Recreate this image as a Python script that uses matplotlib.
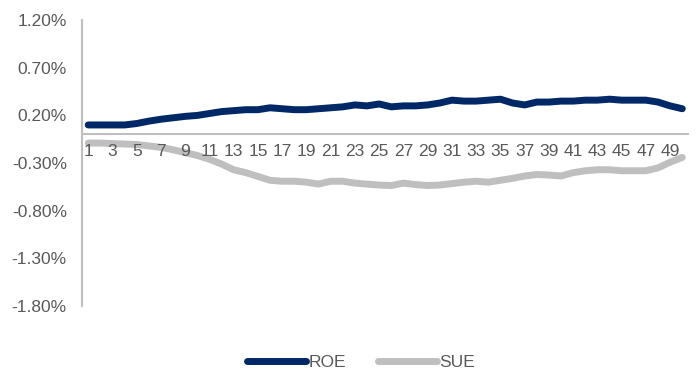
import numpy as np
import matplotlib
matplotlib.use("Agg")
import matplotlib.pyplot as plt
from matplotlib.ticker import FuncFormatter

plt.rcParams['font.family'] = ['Liberation Sans', 'DejaVu Sans']

# ── Données (en %) ──────────────────────────────────────────────────────────
periods = list(range(1, 51))
roe = [0.10, 0.10, 0.10, 0.10, 0.115, 0.14, 0.16, 0.175, 0.19, 0.20,
       0.22, 0.24, 0.25, 0.26, 0.26, 0.28, 0.27, 0.26, 0.26, 0.27,
       0.28, 0.29, 0.31, 0.30, 0.32, 0.29, 0.30, 0.30, 0.31, 0.33,
       0.36, 0.35, 0.35, 0.36, 0.37, 0.33, 0.31, 0.34, 0.34, 0.35,
       0.35, 0.36, 0.36, 0.37, 0.36, 0.36, 0.36, 0.34, 0.30, 0.27]
sue = [-0.09, -0.09, -0.095, -0.10, -0.105, -0.12, -0.135, -0.16, -0.19, -0.22,
       -0.26, -0.31, -0.37, -0.40, -0.44, -0.48, -0.49, -0.49, -0.50, -0.52,
       -0.49, -0.49, -0.51, -0.52, -0.53, -0.535, -0.51, -0.525, -0.535, -0.53,
       -0.515, -0.50, -0.49, -0.50, -0.48, -0.46, -0.435, -0.42, -0.425, -0.435,
       -0.40, -0.38, -0.37, -0.37, -0.38, -0.38, -0.38, -0.35, -0.29, -0.24]
y_ticks = [1.2, 0.7, 0.2, -0.3, -0.8, -1.3, -1.8]

navy  = '#002766'
light = '#BFBFBF'
txt   = '#595959'
axis_col = '#BFBFBF'

fig = plt.figure(figsize=(6.96, 3.78), dpi=100)
ax = fig.add_axes([0.118, 0.19, 0.871, 0.757])

ax.plot(periods, roe, color=navy, lw=5, solid_capstyle='round', label='ROE')
ax.plot(periods, sue, color=light, lw=5, solid_capstyle='round', label='SUE')

ax.set_xlim(0.5, 50.5)
ax.set_ylim(-1.8, 1.2)
ax.set_yticks(y_ticks)
ax.yaxis.set_major_formatter(FuncFormatter(lambda v, p: f"{v:.2f}%"))
ax.set_xticks(periods[::2])
ax.set_xticklabels([str(p) for p in periods[::2]])
ax.set_axisbelow(False)   # étiquettes au-dessus des courbes

for s in ['top', 'right']:
    ax.spines[s].set_visible(False)
ax.spines['left'].set_color(axis_col)
ax.spines['left'].set_linewidth(1.5)
ax.spines['bottom'].set_position(('data', 0))
ax.spines['bottom'].set_color(axis_col)
ax.spines['bottom'].set_linewidth(1.5)

ax.tick_params(axis='y', length=0, pad=11, labelsize=12.5, labelcolor=txt)
ax.tick_params(axis='x', length=0, pad=7, labelsize=12.5, labelcolor=txt)

fig.legend(loc='center', bbox_to_anchor=(0.519, 0.042), ncol=2, frameon=False,
           fontsize=12.5, labelcolor=txt, handlelength=3.4, handletextpad=0.15,
           columnspacing=1.8)

plt.savefig("out.png", dpi=100)
